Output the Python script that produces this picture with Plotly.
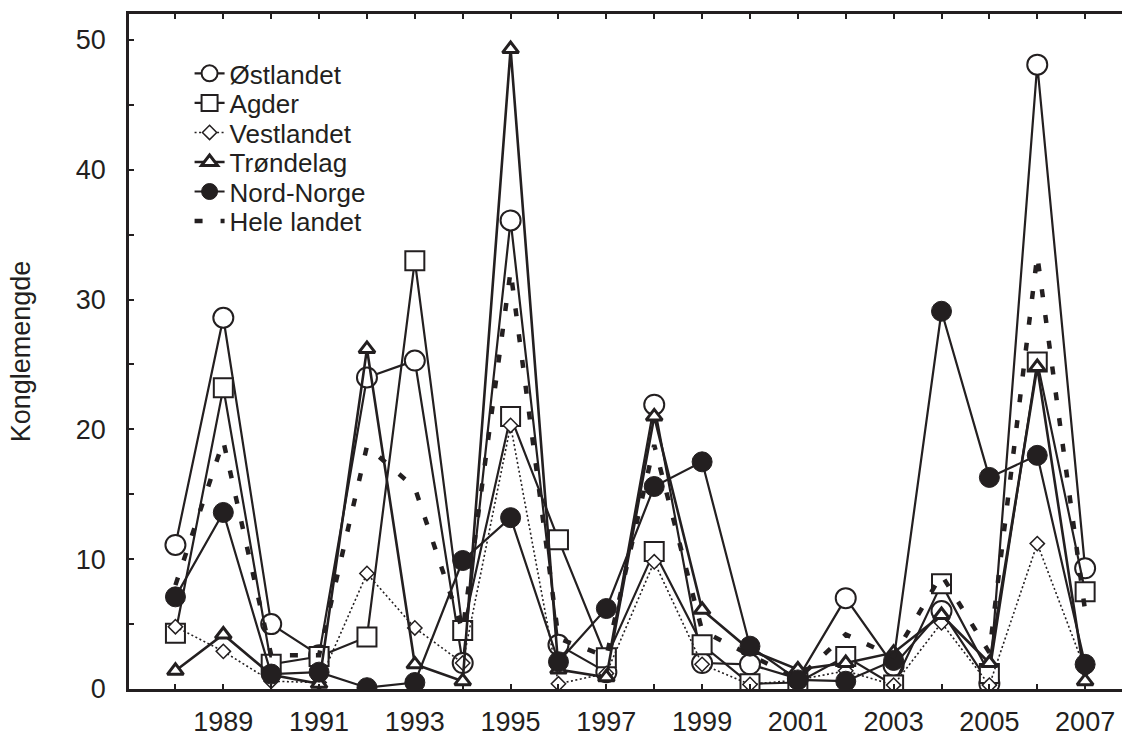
import plotly.graph_objects as go

# Cone crop index per region, 1988-2007
years = list(range(1988, 2008))

ostlandet = [11.1, 28.6, 5.0, 2.6, 24.0, 25.3, 2.0, 36.1, 3.4, 1.3,
             21.9, 2.0, 1.9, 0.8, 7.0, 1.8, 6.0, 0.4, 48.1, 9.3]
agder = [4.3, 23.2, 1.9, 2.5, 4.0, 33.0, 4.5, 21.0, 11.5, 2.4,
         10.6, 3.4, 0.4, 0.5, 2.5, 0.3, 8.1, 1.2, 25.2, 7.5]
vestlandet = [4.8, 2.9, 0.6, 0.5, 8.9, 4.7, 2.0, 20.3, 0.4, 1.2,
              9.8, 1.9, 0.35, 0.7, 1.4, 0.3, 5.1, 0.3, 11.2, 1.5]
trondelag = [1.4, 4.2, 1.1, 0.4, 26.2, 1.9, 0.6, 49.3, 1.5, 0.9,
             21.0, 6.1, 3.0, 1.5, 2.0, 2.8, 5.7, 2.0, 24.8, 0.6]
nord_norge = [7.1, 13.6, 1.15, 1.3, 0.1, 0.5, 9.9, 13.2, 2.1, 6.2,
              15.6, 17.5, 3.3, 0.7, 0.6, 2.2, 29.1, 16.3, 18.0, 1.9]
hele_landet = [8.0, 19.1, 2.6, 2.6, 18.7, 15.5, 4.5, 32.2, 3.9, 2.5,
               18.8, 4.5, 2.6, 0.8, 4.2, 2.5, 8.8, 2.8, 33.4, 6.0]

x_ticks = list(range(1989, 2008, 2))

INK = "#231f20"
FONT = "Liberation Sans, Arial, sans-serif"

# plot area geometry in pixels (used to place the stacked legend rows)
TOP, BOTTOM = 14, 42
HEIGHT = 737
PLOT_H = HEIGHT - TOP - BOTTOM
ROW0, ROW_STEP = 74, 29.8

legend_ids = ["legend", "legend2", "legend3", "legend4", "legend5", "legend6"]

fig = go.Figure()

fig.add_trace(go.Scatter(
    x=years, y=ostlandet, name="Østlandet", mode="lines+markers",
    line=dict(color=INK, width=2.2),
    marker=dict(symbol="circle", size=20, color="white",
                line=dict(color=INK, width=2)),
    legend=legend_ids[0],
))
fig.add_trace(go.Scatter(
    x=years, y=agder, name="Agder", mode="lines+markers",
    line=dict(color=INK, width=2.2),
    marker=dict(symbol="square", size=19, color="white",
                line=dict(color=INK, width=2)),
    legend=legend_ids[1],
))
fig.add_trace(go.Scatter(
    x=years, y=vestlandet, name="Vestlandet", mode="lines+markers",
    line=dict(color=INK, width=1.6, dash="2px,2.5px"),
    marker=dict(symbol="diamond", size=11, color="white",
                line=dict(color=INK, width=1.5)),
    legend=legend_ids[2],
))
fig.add_trace(go.Scatter(
    x=years, y=trondelag, name="Trøndelag", mode="lines+markers",
    line=dict(color=INK, width=2.6),
    marker=dict(symbol="triangle-up", size=14, color="white",
                line=dict(color=INK, width=3)),
    legend=legend_ids[3],
))
fig.add_trace(go.Scatter(
    x=years, y=nord_norge, name="Nord-Norge", mode="lines+markers",
    line=dict(color=INK, width=2.2),
    marker=dict(symbol="circle", size=20, color=INK,
                line=dict(color=INK, width=1)),
    legend=legend_ids[4],
))
fig.add_trace(go.Scatter(
    x=years, y=hele_landet, name="Hele landet", mode="lines",
    line=dict(color=INK, width=4.5, dash="8px,18px"),
    legend=legend_ids[5],
))

# one single-row legend per series so the rows can sit closer together
legend_layout = {}
for i, lid in enumerate(legend_ids):
    row_y = ROW0 + i * ROW_STEP
    legend_layout[lid] = dict(
        x=0.061, y=1 - (row_y - TOP) / PLOT_H,
        xanchor="left", yanchor="middle",
        bgcolor="rgba(0,0,0,0)", borderwidth=0,
        font=dict(family=FONT, size=26, color=INK),
    )

fig.update_layout(
    width=1122, height=HEIGHT,
    margin=dict(l=129, r=0, t=TOP, b=BOTTOM),
    paper_bgcolor="white", plot_bgcolor="white",
    font=dict(family=FONT, size=27, color=INK),
    showlegend=True,
    **legend_layout,
    xaxis=dict(
        range=[1987.03, 2007.77],
        tickmode="array", tickvals=x_ticks,
        ticks="inside", ticklen=5, tickwidth=1.5, tickcolor=INK,
        minor=dict(dtick=1, tick0=1988, ticks="inside", ticklen=5,
                   tickwidth=1.5, tickcolor=INK),
        showline=True, linewidth=2.5, linecolor=INK, mirror="ticks",
        showgrid=False, zeroline=False,
        tickfont=dict(family=FONT, size=27, color=INK),
        ticklabelstandoff=7,
    ),
    yaxis=dict(
        range=[0, 52],
        tickmode="linear", tick0=0, dtick=10,
        ticks="inside", ticklen=5, tickwidth=1.5, tickcolor=INK,
        minor=dict(dtick=5, tick0=0, ticks="inside", ticklen=5,
                   tickwidth=1.5, tickcolor=INK),
        showline=True, linewidth=2.5, linecolor=INK, mirror=False,
        showgrid=False, zeroline=False,
        tickfont=dict(family=FONT, size=27, color=INK),
        ticklabelstandoff=15,
        title=dict(text="Konglemengde", standoff=38,
                   font=dict(family=FONT, size=27, color=INK)),
    ),
)

fig.write_html("out.html")
